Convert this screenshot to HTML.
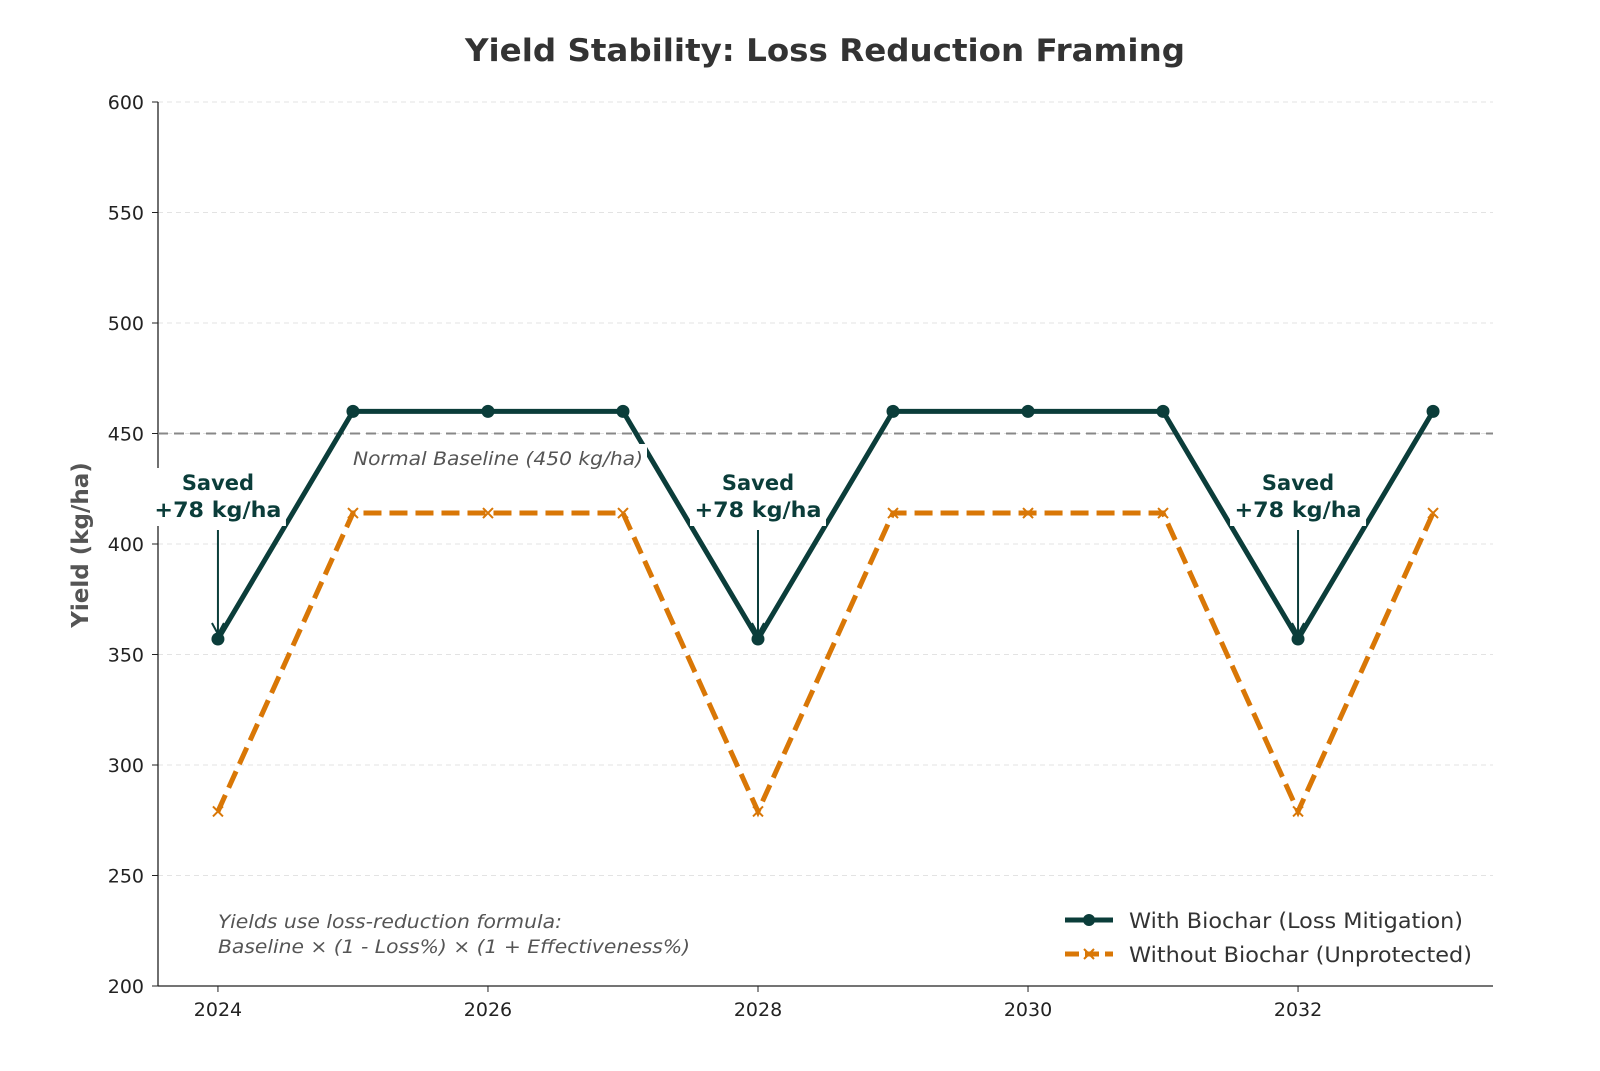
<!DOCTYPE html>
<html><head><meta charset="utf-8"><style>
body{margin:0;background:#fff;}
svg{display:block;font-family:"DejaVu Sans","Liberation Sans",sans-serif;}
</style></head><body>
<svg id="chart" width="1600" height="1071" viewBox="0 0 1600 1071">
<text x="825" y="61" text-anchor="middle" font-size="31" font-weight="bold" fill="#333" textLength="720" lengthAdjust="spacingAndGlyphs">Yield Stability: Loss Reduction Framing</text>
<g id="grid"></g>
<g id="axes"></g>
<g id="series"></g>
<g id="annot"></g>
<text transform="translate(88,545) rotate(-90)" text-anchor="middle" font-size="23" font-weight="bold" fill="#555">Yield (kg/ha)</text>
<text x="218" y="928" font-size="19" font-style="italic" fill="#555" textLength="344" lengthAdjust="spacingAndGlyphs">Yields use loss-reduction formula:</text>
<text x="218" y="953" font-size="19" font-style="italic" fill="#555" textLength="472" lengthAdjust="spacingAndGlyphs">Baseline × (1 - Loss%) × (1 + Effectiveness%)</text>
<g>
<line x1="1065" y1="920" x2="1113" y2="920" stroke="#0b3d3a" stroke-width="5"/>
<circle cx="1089" cy="920" r="6" fill="#0b3d3a"/>
<text x="1129" y="928" font-size="21" fill="#333" textLength="334" lengthAdjust="spacingAndGlyphs">With Biochar (Loss Mitigation)</text>
<line x1="1065" y1="954" x2="1113" y2="954" stroke="#d97706" stroke-width="5" stroke-dasharray="14,6"/>
<path d="M1084 949 L1094 959 M1094 949 L1084 959" stroke="#d97706" stroke-width="2"/>
<text x="1129" y="962" font-size="21" fill="#333" textLength="343" lengthAdjust="spacingAndGlyphs">Without Biochar (Unprotected)</text>
</g>
</svg>
<script>
const years=[2024,2025,2026,2027,2028,2029,2030,2031,2032,2033];
const withBiochar=[357,460,460,460,357,460,460,460,357,460];
const withoutBiochar=[279,414,414,414,279,414,414,414,279,414];
const yTicks=[200,250,300,350,400,450,500,550,600];
const xTicks=[2024,2026,2028,2030,2032];
const baseline=450;
const savedLabels=["+78 kg/ha","+78 kg/ha","+78 kg/ha"];
const NS="http://www.w3.org/2000/svg";
const X0=158,X1=1493,Y0=986,Y1=102,xmin=2023.556,xmax=2033.444,ymin=200,ymax=600;
function sx(v){return X0+(v-xmin)/(xmax-xmin)*(X1-X0);}
function sy(v){return Y0-(v-ymin)/(ymax-ymin)*(Y0-Y1);}
function mk(tag,attrs,parent){const e=document.createElementNS(NS,tag);for(const k in attrs)e.setAttribute(k,attrs[k]);parent.appendChild(e);return e;}
const grid=document.getElementById('grid'),axes=document.getElementById('axes'),ser=document.getElementById('series'),ann=document.getElementById('annot');
yTicks.forEach(t=>{
 const g=mk('line',{x1:X0,x2:X1,y1:sy(t),y2:sy(t),stroke:'#e3e3e3','stroke-dasharray':'5,4'},grid);
 
 
 mk('line',{x1:X0-6,x2:X0,y1:sy(t),y2:sy(t),stroke:'#222'},axes);
 const tx=mk('text',{x:X0-14,y:sy(t)+7,'text-anchor':'end','font-size':19,fill:'#222'},axes);
 tx.textContent=t;
 
 
});
xTicks.forEach(t=>{
 mk('line',{x1:sx(t),x2:sx(t),y1:Y0,y2:Y0+6,stroke:'#222'},axes);
 const tx=mk('text',{x:sx(t),y:Y0+30,'text-anchor':'middle','font-size':19,fill:'#222'},axes);
 tx.textContent=t;
 
 
});
mk('line',{x1:X0,x2:X0,y1:Y1,y2:Y0,stroke:'#222','stroke-width':1.3},axes);
mk('line',{x1:X0,x2:X1,y1:Y0,y2:Y0,stroke:'#222','stroke-width':1.3},axes);
const bl=mk('line',{x1:X0,x2:X1,y1:sy(baseline),y2:sy(baseline),stroke:'#888','stroke-width':2,'stroke-dasharray':'10,6'},ser);


const p2=mk('polyline',{points:years.map((y,i)=>sx(y)+','+sy(withoutBiochar[i])).join(' '),fill:'none',stroke:'#d97706','stroke-width':5,'stroke-dasharray':'18,8'},ser);


years.forEach((y,i)=>{const m=mk('path',{d:`M${sx(y)-5} ${sy(withoutBiochar[i])-5} l10 10 M${sx(y)+5} ${sy(withoutBiochar[i])-5} l-10 10`,stroke:'#d97706','stroke-width':2},ser);
 
 });
const p1=mk('polyline',{points:years.map((y,i)=>sx(y)+','+sy(withBiochar[i])).join(' '),fill:'none',stroke:'#0b3d3a','stroke-width':5,'stroke-linejoin':'round'},ser);


years.forEach((y,i)=>{const c=mk('circle',{cx:sx(y),cy:sy(withBiochar[i]),r:6.5,fill:'#0b3d3a'},ser);
 
 });
mk('rect',{x:349,y:444,width:298,height:28,fill:'#fff'},ann);
const btx=mk('text',{x:353,y:465,'font-size':19,'font-style':'italic',fill:'#555',textLength:290,lengthAdjust:'spacingAndGlyphs'},ann);
btx.textContent='Normal Baseline (450 kg/ha)';


let k=0;
years.forEach((y,i)=>{
 if(withBiochar[i]<baseline-50){
  const x=sx(y);
  mk('rect',{x:x-68,y:468,width:136,height:58,fill:'#fff'},ann);
  const a=mk('line',{x1:x,x2:x,y1:530,y2:sy(withBiochar[i])-6,stroke:'#0b3d3a','stroke-width':2},ann);
  
  
  mk('path',{d:`M${x-6} ${sy(withBiochar[i])-16} L${x} ${sy(withBiochar[i])-5} L${x+6} ${sy(withBiochar[i])-16}`,fill:'none',stroke:'#0b3d3a','stroke-width':2},ann);
  const t=mk('text',{x:x,y:490,'text-anchor':'middle','font-size':21,'font-weight':'bold',fill:'#0b3d3a'},ann);
  t.textContent='Saved';
  
  
  const t2=mk('text',{x:x,y:517,'text-anchor':'middle','font-size':21,'font-weight':'bold',fill:'#0b3d3a',textLength:127,lengthAdjust:'spacingAndGlyphs'},ann);
  t2.textContent=savedLabels[k++]||'';
  
  
 }
});
</script>
</body></html>
